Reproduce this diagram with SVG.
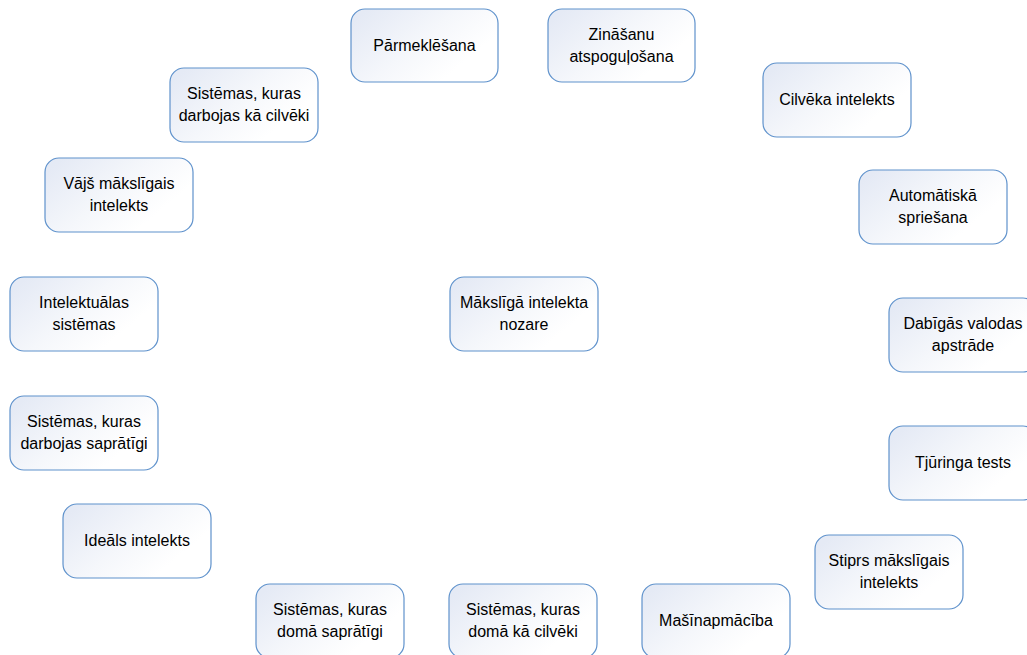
<svg xmlns="http://www.w3.org/2000/svg" width="1027" height="655" viewBox="0 0 1027 655">
  <defs>
    <linearGradient id="boxFill" x1="0" y1="0.2" x2="1" y2="0.8">
      <stop offset="0" stop-color="#e5eaf5"/>
      <stop offset="0.45" stop-color="#f5f7fb"/>
      <stop offset="0.8" stop-color="#ffffff"/>
    </linearGradient>
  </defs>
  <style>
    .box { fill: url(#boxFill); stroke: #5f92cc; stroke-width: 1.2; }
    .label { font-family: "Liberation Sans", Arial, sans-serif; font-size: 16px; fill: #000; text-anchor: middle; }
  </style>
  <rect width="1027" height="655" fill="#ffffff"/>

  <!-- no connectors in this diagram -->
  <g id="connectors"/>

  <g id="node-center">
    <rect class="box" x="450" y="277" width="148" height="74" rx="14"/>
    <text class="label" x="524" y="308">Mākslīgā intelekta</text>
    <text class="label" x="524" y="330">nozare</text>
  </g>

  <g id="node-parmeklesana">
    <rect class="box" x="351" y="9" width="147" height="73" rx="14"/>
    <text class="label" x="424.5" y="51">Pārmeklēšana</text>
  </g>

  <g id="node-zinasanu">
    <rect class="box" x="548" y="9" width="147" height="73" rx="14"/>
    <text class="label" x="621.5" y="40">Zināšanu</text>
    <text class="label" x="621.5" y="62">atspoguļošana</text>
  </g>

  <g id="node-cilveka">
    <rect class="box" x="763" y="63" width="148" height="74" rx="14"/>
    <text class="label" x="837" y="105">Cilvēka intelekts</text>
  </g>

  <g id="node-automatiska">
    <rect class="box" x="859" y="170" width="148" height="74" rx="14"/>
    <text class="label" x="933" y="201">Automātiskā</text>
    <text class="label" x="933" y="223">spriešana</text>
  </g>

  <g id="node-dabigas">
    <rect class="box" x="889" y="298" width="148" height="74" rx="14"/>
    <text class="label" x="963" y="329">Dabīgās valodas</text>
    <text class="label" x="963" y="351">apstrāde</text>
  </g>

  <g id="node-tjuringa">
    <rect class="box" x="889" y="426" width="148" height="74" rx="14"/>
    <text class="label" x="963" y="468">Tjūringa tests</text>
  </g>

  <g id="node-stiprs">
    <rect class="box" x="815" y="535" width="148" height="74" rx="14"/>
    <text class="label" x="889" y="566">Stiprs mākslīgais</text>
    <text class="label" x="889" y="588">intelekts</text>
  </g>

  <g id="node-masinapmaciba">
    <rect class="box" x="642" y="584" width="148" height="74" rx="14"/>
    <text class="label" x="716" y="626">Mašīnapmācība</text>
  </g>

  <g id="node-doma-ka-cilveki">
    <rect class="box" x="449" y="584" width="148" height="74" rx="14"/>
    <text class="label" x="523" y="615">Sistēmas, kuras</text>
    <text class="label" x="523" y="637">domā kā cilvēki</text>
  </g>

  <g id="node-doma-sapratigi">
    <rect class="box" x="256" y="584" width="148" height="74" rx="14"/>
    <text class="label" x="330" y="615">Sistēmas, kuras</text>
    <text class="label" x="330" y="637">domā saprātīgi</text>
  </g>

  <g id="node-idealis">
    <rect class="box" x="63" y="504" width="148" height="74" rx="14"/>
    <text class="label" x="137" y="546">Ideāls intelekts</text>
  </g>

  <g id="node-darbojas-sapratigi">
    <rect class="box" x="10" y="396" width="148" height="74" rx="14"/>
    <text class="label" x="84" y="427">Sistēmas, kuras</text>
    <text class="label" x="84" y="449">darbojas saprātīgi</text>
  </g>

  <g id="node-intelektualas">
    <rect class="box" x="10" y="277" width="148" height="74" rx="14"/>
    <text class="label" x="84" y="308">Intelektuālas</text>
    <text class="label" x="84" y="330">sistēmas</text>
  </g>

  <g id="node-vajs">
    <rect class="box" x="45" y="158" width="148" height="74" rx="14"/>
    <text class="label" x="119" y="189">Vājš mākslīgais</text>
    <text class="label" x="119" y="211">intelekts</text>
  </g>

  <g id="node-darbojas-ka-cilveki">
    <rect class="box" x="170" y="68" width="148" height="74" rx="14"/>
    <text class="label" x="244" y="99">Sistēmas, kuras</text>
    <text class="label" x="244" y="121">darbojas kā cilvēki</text>
  </g>
</svg>
